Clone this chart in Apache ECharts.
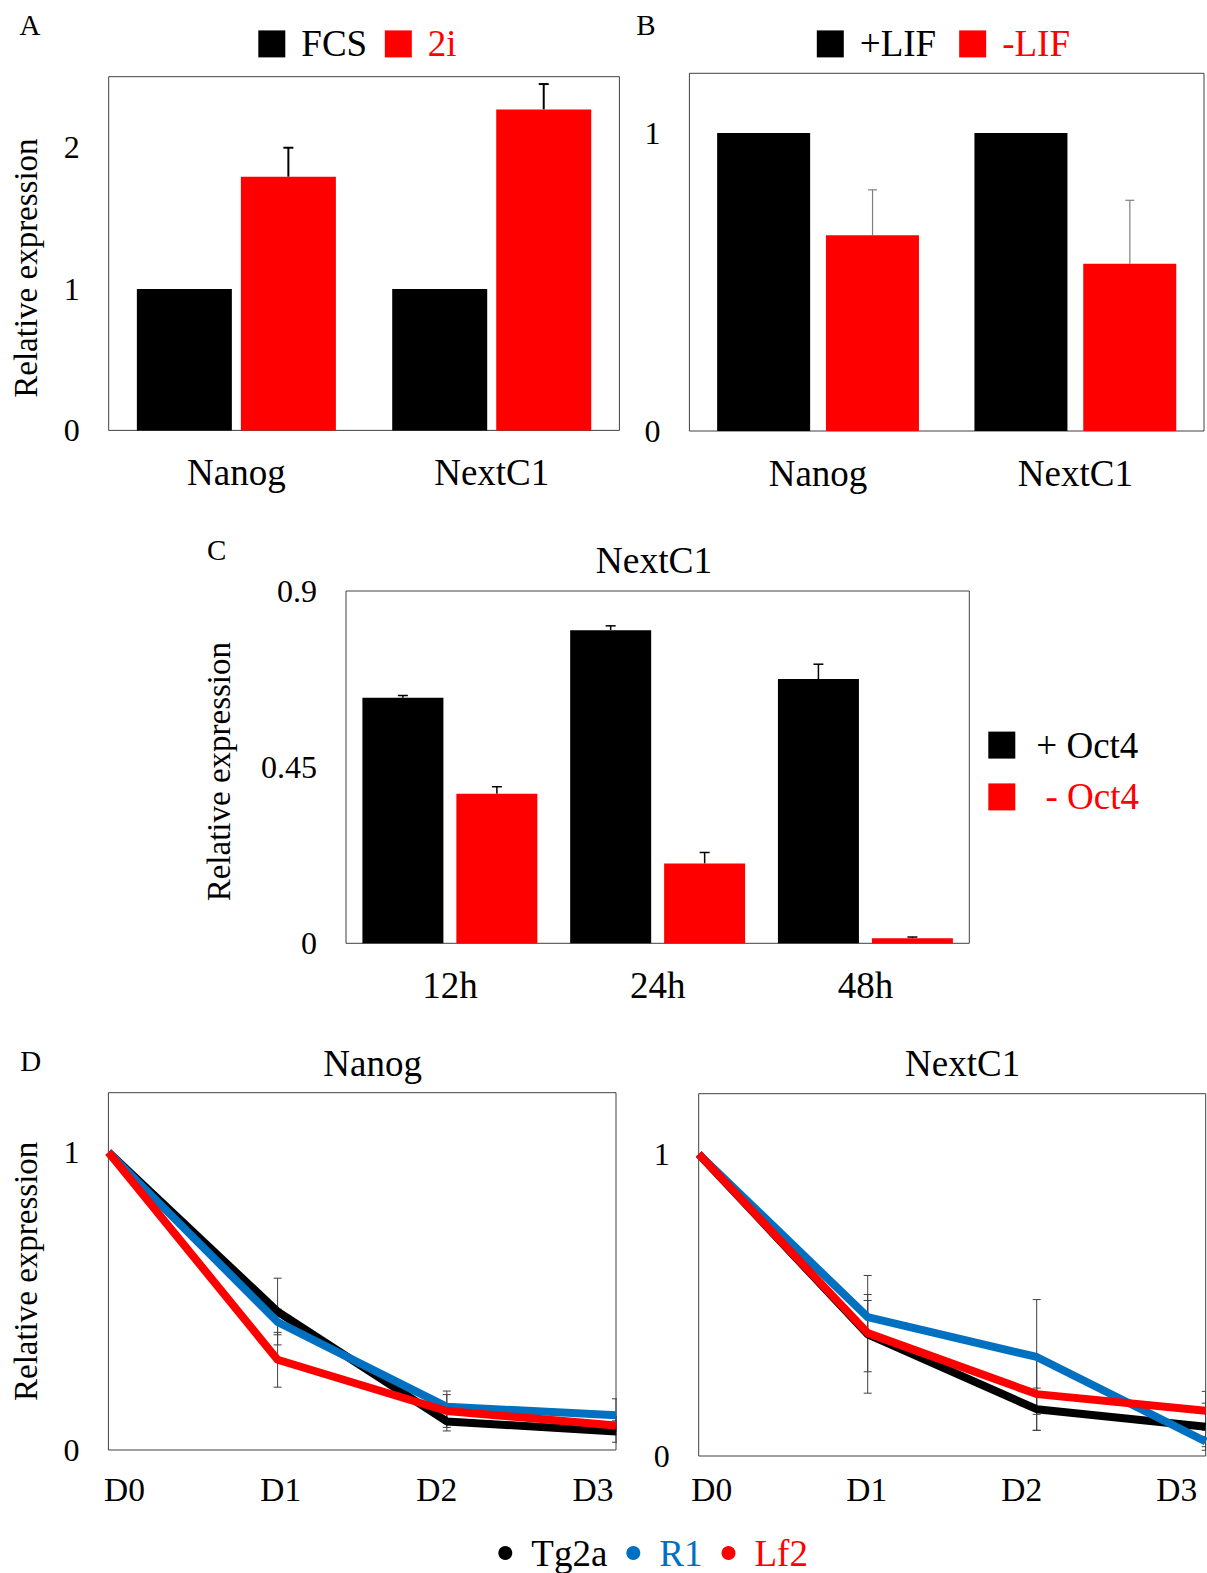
<!DOCTYPE html>
<html><head><meta charset="utf-8">
<script src="https://cdn.jsdelivr.net/npm/echarts@6/dist/echarts.min.js"></script>
<style>html,body{margin:0;padding:0;background:#fff}#c{width:1207px;height:1573px}</style>
</head><body><div id="c"></div>
<script>
// ---- Panel A ----
const catsAB = ['Nanog', 'NextC1'];
const fcsVals = [1, 1];
const twoIVals = [1.793, 2.269];
const twoIErr = [0.205, 0.179];
// ---- Panel B ----
const plusLIFVals = [1, 1];
const minusLIFVals = [0.657, 0.561];
const minusLIFErr = [0.152, 0.213];
// ---- Panel C ----
const catsC = ['12h', '24h', '48h'];
const plusOct4Vals = [0.627, 0.800, 0.675];
const plusOct4Err = [0.006, 0.011, 0.038];
const minusOct4Vals = [0.382, 0.204, 0.013];
const minusOct4Err = [0.018, 0.028, 0.003];
// ---- Panel D ----
const days = ['D0', 'D1', 'D2', 'D3'];
const tg2aNanog = [1, 0.465, 0.096, 0.062];
const r1Nanog = [1, 0.430, 0.145, 0.117];
const lf2Nanog = [1, 0.303, 0.131, 0.082];
const tg2aNanogErr = [0, 0.112, 0.032, 0.036];
const r1NanogErr = [0, 0.043, 0.053, 0.055];
const lf2NanogErr = [0, 0.092, 0.055, 0.030];
const tg2aNext = [1, 0.403, 0.155, 0.097];
const r1Next = [1, 0.460, 0.328, 0.048];
const lf2Next = [1, 0.407, 0.205, 0.150];
const tg2aNextErr = [0, 0.195, 0.070, 0.078];
const r1NextErr = [0, 0.055, 0.190, 0.017];
const lf2NextErr = [0, 0.128, 0.120, 0.064];

const FONT = "'Liberation Serif', 'Times New Roman', serif";
const RED = '#FF0000', BLACK = '#000000', BLUE = '#0070C0';

function upErrData(vals, errs) { return vals.map((v, i) => [i, v, v + errs[i]]); }
function barErr(offset, color, width, capHalf) {
  return function (params, api) {
    const x = api.value(0), v = api.value(1), t = api.value(2);
    const a = api.coord([x, v]), b = api.coord([x, t]);
    const cx = a[0] + offset;
    return { type: 'group', children: [
      { type: 'line', shape: { x1: cx, y1: a[1], x2: cx, y2: b[1] }, style: { stroke: color, lineWidth: width } },
      { type: 'line', shape: { x1: cx - capHalf, y1: b[1], x2: cx + capHalf, y2: b[1] }, style: { stroke: color, lineWidth: width } }
    ] };
  };
}
function lineErrData(list) {
  const out = [];
  list.forEach(([vals, errs]) => vals.forEach((v, i) => { if (errs[i] > 0) out.push([i, v - errs[i], v + errs[i]]); }));
  return out;
}
function lineErr(params, api) {
  const x = api.value(0);
  const a = api.coord([x, api.value(1)]), b = api.coord([x, api.value(2)]);
  const st = { stroke: '#404040', lineWidth: 1 };
  return { type: 'group', children: [
    { type: 'line', shape: { x1: a[0], y1: a[1], x2: b[0], y2: b[1] }, style: st },
    { type: 'line', shape: { x1: a[0] - 4, y1: a[1], x2: a[0] + 4, y2: a[1] }, style: st },
    { type: 'line', shape: { x1: b[0] - 4, y1: b[1], x2: b[0] + 4, y2: b[1] }, style: st }
  ] };
}

const gridBox = { show: true, borderColor: '#404040', borderWidth: 1, backgroundColor: 'transparent' };
const grids = [
  Object.assign({ left: 108.7, top: 76.7, width: 510.7, height: 353.7 }, gridBox),
  Object.assign({ left: 689.4, top: 73.3, width: 514.6, height: 357.7 }, gridBox),
  Object.assign({ left: 346, top: 591, width: 623.3, height: 352.3 }, gridBox),
  Object.assign({ left: 108.4, top: 1092.7, width: 507.6, height: 357.3 }, gridBox),
  Object.assign({ left: 698.7, top: 1093.7, width: 507, height: 362.3 }, gridBox),
  { left: 124.5, top: 1092.7, width: 468.5, height: 357.3, show: false },
  { left: 711.7, top: 1093.7, width: 465, height: 356.3, show: false }
];

function catAxis(gi, data, opts) {
  return Object.assign({
    type: 'category', gridIndex: gi, data: data,
    axisLine: { show: false }, axisTick: { show: false }, splitLine: { show: false },
    axisLabel: { show: true, color: '#000', fontFamily: FONT, fontSize: 37, margin: 24 }
  }, opts || {});
}
function valAxis(gi, max, interval, opts) {
  return Object.assign({
    type: 'value', gridIndex: gi, min: 0, max: max, interval: interval,
    axisLine: { show: false }, axisTick: { show: false }, splitLine: { show: false },
    axisLabel: { color: '#000', fontFamily: FONT, fontSize: 32, margin: 29 }
  }, opts || {});
}
const yName = (gap, pad) => ({
  name: 'Relative expression', nameLocation: 'middle', nameGap: gap,
  nameTextStyle: { color: '#000', fontFamily: FONT, fontSize: 33, padding: pad }
});

const xAxes = [
  catAxis(0, catsAB),
  catAxis(1, catsAB),
  catAxis(2, catsC),
  catAxis(3, days, { boundaryGap: false, axisLabel: { show: false } }),
  catAxis(4, days, { boundaryGap: false, axisLabel: { show: false } }),
  catAxis(5, days, { boundaryGap: false, axisLabel: { show: true, color: '#000', fontFamily: FONT, fontSize: 33.5, margin: 22 } }),
  catAxis(6, days, { boundaryGap: false, axisLabel: { show: true, color: '#000', fontFamily: FONT, fontSize: 33.5, margin: 22 } })
];
const hideMax = { color: '#000', fontFamily: FONT, fontSize: 32, margin: 29, showMaxLabel: false };
const yAxes = [
  valAxis(0, 2.5, 1, Object.assign({ axisLabel: hideMax }, yName(66, [0, 29, 0, 0]))),
  valAxis(1, 1.2, 1, { axisLabel: hideMax }),
  valAxis(2, 0.9, 0.45, yName(111, [0, 9, 0, 0])),
  valAxis(3, 1.2, 1, Object.assign({ axisLabel: hideMax }, yName(66, [0, 0, 0, 0]))),
  valAxis(4, 1.2, 1, { axisLabel: hideMax }),
  valAxis(5, 1.2, 1, { show: false }),
  valAxis(6, 1.2, 1, { show: false })
];

const barBase = (name, ai, data, color, w, gap) => ({
  type: 'bar', name: name, xAxisIndex: ai, yAxisIndex: ai, data: data,
  barWidth: w, barGap: gap, itemStyle: { color: color }, silent: true
});
const lineBase = (name, ai, data, color) => ({
  type: 'line', name: name, xAxisIndex: ai, yAxisIndex: ai, data: data,
  symbol: 'none', showSymbol: false, lineStyle: { width: 8, color: color, cap: 'butt', join: 'round' },
  itemStyle: { color: color }, silent: true
});

const series = [
  barBase('FCS', 0, fcsVals, BLACK, 95, '9.5%'),
  barBase('2i', 0, twoIVals, RED, 95, '9.5%'),
  { type: 'custom', name: 'errA', xAxisIndex: 0, yAxisIndex: 0, data: upErrData(twoIVals, twoIErr),
    encode: { x: 0, y: [1, 2] }, renderItem: barErr(52, '#000', 2, 5), silent: true },
  barBase('+LIF', 1, plusLIFVals, BLACK, 93, '17%'),
  barBase('-LIF', 1, minusLIFVals, RED, 93, '17%'),
  { type: 'custom', name: 'errB', xAxisIndex: 1, yAxisIndex: 1, data: upErrData(minusLIFVals, minusLIFErr),
    encode: { x: 0, y: [1, 2] }, renderItem: barErr(54.5, '#7f7f7f', 1.2, 4.5), silent: true },
  barBase('+ Oct4', 2, plusOct4Vals, BLACK, 81, '16%'),
  barBase(' - Oct4', 2, minusOct4Vals, RED, 81, '16%'),
  { type: 'custom', name: 'errC1', xAxisIndex: 2, yAxisIndex: 2, data: upErrData(plusOct4Vals, plusOct4Err),
    encode: { x: 0, y: [1, 2] }, renderItem: barErr(-47, '#000', 1.5, 5), silent: true },
  { type: 'custom', name: 'errC2', xAxisIndex: 2, yAxisIndex: 2, data: upErrData(minusOct4Vals, minusOct4Err),
    encode: { x: 0, y: [1, 2] }, renderItem: barErr(47, '#000', 1.5, 5), silent: true },
  lineBase('Tg2a', 3, tg2aNanog, BLACK),
  lineBase('R1', 3, r1Nanog, BLUE),
  lineBase('Lf2', 3, lf2Nanog, RED),
  { type: 'custom', name: 'errD1', xAxisIndex: 3, yAxisIndex: 3, clip: true,
    data: lineErrData([[tg2aNanog, tg2aNanogErr], [r1Nanog, r1NanogErr], [lf2Nanog, lf2NanogErr]]),
    encode: { x: 0, y: [1, 2] }, renderItem: lineErr, silent: true },
  lineBase('Tg2a', 4, tg2aNext, BLACK),
  lineBase('R1', 4, r1Next, BLUE),
  lineBase('Lf2', 4, lf2Next, RED),
  { type: 'custom', name: 'errD2', xAxisIndex: 4, yAxisIndex: 4, clip: true,
    data: lineErrData([[tg2aNext, tg2aNextErr], [r1Next, r1NextErr], [lf2Next, lf2NextErr]]),
    encode: { x: 0, y: [1, 2] }, renderItem: lineErr, silent: true }
];

const legTxt = (pad, lh) => ({ fontFamily: FONT, fontSize: 37, lineHeight: lh, padding: [0, 0, 0, pad] });
const legends = [
  { data: [{ name: 'FCS', textStyle: { color: BLACK } }, { name: '2i', textStyle: { color: RED } }],
    left: 258.3, top: 25.4, padding: 0, itemWidth: 27, itemHeight: 27, itemGap: 17.7, icon: 'rect',
    selectedMode: false, textStyle: legTxt(11, 27) },
  { data: [{ name: '+LIF', textStyle: { color: BLACK } }, { name: '-LIF', textStyle: { color: RED } }],
    left: 816.8, top: 25.4, padding: 0, itemWidth: 27, itemHeight: 27, itemGap: 23, icon: 'rect',
    selectedMode: false, textStyle: legTxt(11, 27) },
  { data: [{ name: '+ Oct4', textStyle: { color: BLACK } }, { name: ' - Oct4', textStyle: { color: RED } }],
    orient: 'vertical', left: 988.3, top: 726.6, padding: 0, itemWidth: 27, itemHeight: 27, itemGap: 14.8, icon: 'rect',
    selectedMode: false, textStyle: legTxt(16, 27) },
  { data: [{ name: 'Tg2a', textStyle: { color: BLACK } }, { name: 'R1', textStyle: { color: BLUE } }, { name: 'Lf2', textStyle: { color: RED } }],
    left: 498.3, top: 1533, padding: 0, itemWidth: 14, itemHeight: 14, itemGap: 19, icon: 'circle',
    selectedMode: false, textStyle: legTxt(14, 40) }
];

const txt = (s, x, y, size) => ({ type: 'text', x: x, y: y, silent: true,
  style: { text: s, fill: '#000', font: size + 'px ' + FONT, textAlign: 'center', textVerticalAlign: 'middle' } });
const graphics = [
  txt('A', 30, 24.5, 29), txt('B', 645.8, 24.5, 29), txt('C', 216.7, 550, 29), txt('D', 30.6, 1061, 29),
  txt('NextC1', 654, 560.5, 37.5), txt('Nanog', 372.7, 1063, 37), txt('NextC1', 962.6, 1063, 37)
];

const chart = echarts.init(document.getElementById('c'), null, { renderer: 'svg' });
chart.setOption({
  animation: false,
  backgroundColor: '#ffffff',
  textStyle: { fontFamily: FONT },
  grid: grids, xAxis: xAxes, yAxis: yAxes, series: series, legend: legends, graphic: graphics
});
</script></body></html>
